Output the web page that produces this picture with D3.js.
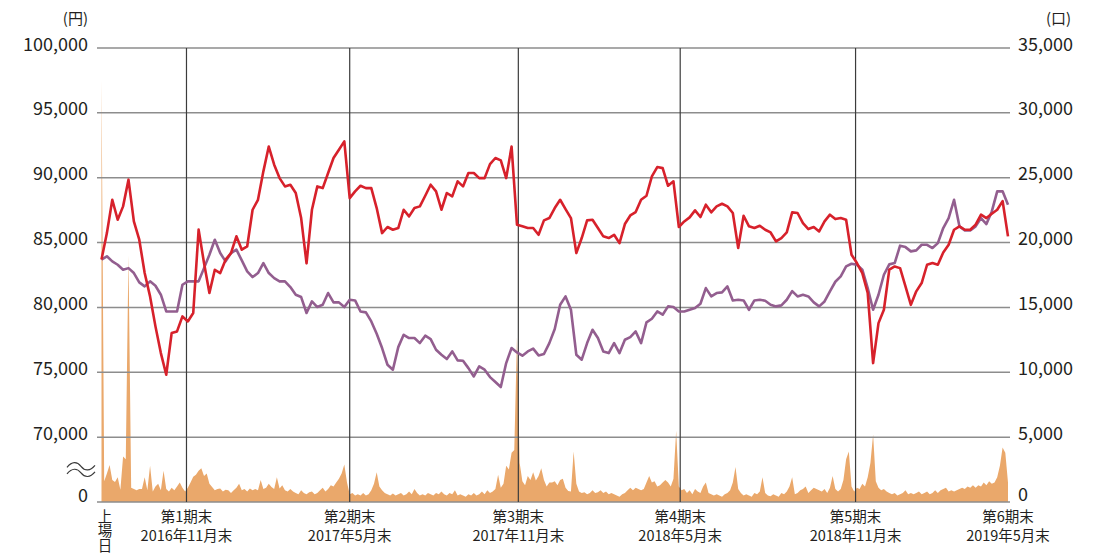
<!DOCTYPE html>
<html>
<head>
<meta charset="utf-8">
<script src="https://cdn.jsdelivr.net/npm/d3@7"></script>
<style>
  html, body { margin: 0; padding: 0; background: #fff; }
  svg { display: block; font-family: "Noto Sans CJK JP", "Noto Sans", sans-serif; }
</style>
</head>
<body>
<svg id="chart" width="1104" height="558"></svg>
<script>
// ---- data -------------------------------------------------------------
// Left axis (yen): price ticks above the axis break, plus 0 at the bottom.
const priceTicks = [70000, 75000, 80000, 85000, 90000, 95000, 100000];
// Right axis (units traded).
const volumeTicks = [0, 5000, 10000, 15000, 20000, 25000, 30000, 35000];

// Trading-day index of each fiscal period end (day 0 = listing day).
const periodEndDay = [63, 184, 309, 429, 559, 672];
const periodNames = ["第1期末", "第2期末", "第3期末", "第4期末", "第5期末", "第6期末"];
const periodDates = ["2016年11月末", "2017年5月末", "2017年11月末", "2018年5月末", "2018年11月末", "2019年5月末"];
const listingLabel = "上場日";

// Unit price (yen), one value every 4 trading days.
const priceStep = 4;
const unitPrice = [
  83700, 85730, 88300, 86760, 87790, 89850, 86630, 85220, 82650, 80850,
  78540, 76480, 74810, 78020, 78150, 79310, 78920, 79570, 86000, 83420,
  81110, 82900, 82650, 83680, 84190, 85480, 84450, 84700, 87530, 88300,
  90490, 92400, 91000, 89970, 89330, 89460, 88820, 86890, 83400, 87530,
  89330, 89200, 90360, 91520, 92160, 92800, 88430, 88950, 89380, 89200,
  89200, 87660, 85730, 86200, 85990, 86120, 87530, 87020, 87660, 87790,
  88610, 89460, 88950, 87530, 88820, 88560, 89720, 89330, 90360, 90360,
  89970, 89970, 91050, 91520, 91340, 89970, 92400, 86380, 86250, 86120,
  86120, 85600, 86710, 86890, 87660, 88300, 87580, 86890, 84190, 85350,
  86710, 86760, 86120, 85480, 85350, 85600, 84960, 86430, 87090, 87350,
  88300, 88610, 90100, 90820, 90740, 89380, 89720, 86200, 86630, 86940,
  87480, 86970, 87920, 87330, 87790, 87990, 87790, 87280, 84580, 87070,
  86250, 86120, 86300, 85990, 85780, 85090, 85350, 85780, 87330, 87280,
  86500, 86040, 86200, 85860, 86630, 87150, 86810, 86890, 86760, 84060,
  83420, 82650, 81110, 75710, 78790, 79820, 82910, 83160, 83030, 81620,
  80200, 81240, 81880, 83290, 83420, 83290, 84240, 84830, 85990, 86250,
  85990, 85990, 86380, 87150, 86890, 87220, 87530, 88200, 85480
];

// REIT index rebased to the listing-day price (yen), same spacing.
const reitIndex = [
  83680, 83940, 83550, 83290, 82910, 83030, 82650, 81930, 81620, 82010,
  81670, 80980, 79690, 79690, 79690, 81750, 82010, 82010, 82010, 83030,
  84060, 85220, 84190, 83550, 84190, 84450, 83630, 82780, 82340, 82650,
  83420, 82650, 82260, 82010, 82010, 81570, 80980, 80800, 79570, 80470,
  80030, 80210, 81110, 80390, 80390, 80030, 80590, 80540, 79690, 79620,
  78920, 77970, 76870, 75580, 75200, 76940, 77890, 77640, 77640, 77250,
  77820, 77560, 76740, 76350, 76020, 76610, 75920, 75890, 75320, 74680,
  75450, 75200, 74630, 74250, 73860, 75710, 76870, 76530, 76280, 76610,
  76820, 76300, 76410, 77250, 78330, 80210, 80850, 79820, 76350, 75970,
  77250, 78280, 77640, 76610, 76480, 77250, 76480, 77510, 77710, 78150,
  77250, 78850, 79130, 79690, 79440, 80080, 80030, 79690, 79690, 79820,
  79950, 80280, 81490, 80850, 81110, 81160, 81620, 80540, 80590, 80540,
  79820, 80540, 80590, 80520, 80210, 80080, 80160, 80590, 81260, 80850,
  80980, 80850, 80390, 80080, 80460, 81240, 81980, 82390, 83160, 83370,
  83290, 82910, 81490, 79820, 80980, 82520, 83320, 83420, 84760, 84650,
  84320, 84400, 84830, 84830, 84580, 84960, 86120, 86890, 88300, 86250,
  85940, 85940, 86250, 86890, 86430, 87400, 88950, 88950, 87920
];

// Units traded, one value every 2 trading days.
const volumeStep = 2;
const volume = [
  32500, 1600, 2200, 2850, 1700, 1550, 1900, 950, 3500, 3300,
  19000, 1100, 1000, 900, 1000, 1000, 1900, 900, 2800, 800,
  1200, 1400, 900, 2400, 1000, 800, 1100, 900, 1200, 1500,
  1100, 800, 1100, 1500, 1950, 2100, 2400, 2600, 2000, 2200,
  1400, 1150, 900, 1000, 1050, 800, 950, 900, 700, 900,
  1100, 1400, 900, 1000, 800, 1050, 900, 1000, 900, 1700,
  1000, 1100, 1400, 1150, 1000, 1900, 1050, 1300, 900, 800,
  1000, 800, 700, 600, 900, 700, 600, 750, 800, 600,
  700, 900, 1100, 800, 1000, 1300, 1200, 1500, 1800, 2200,
  2900, 1500, 600, 700, 500, 600, 500, 700, 500, 600,
  900, 1400, 2300, 1200, 900, 700, 600, 500, 650, 500,
  600, 700, 500, 600, 800, 600, 1000, 700, 500, 600,
  500, 700, 600, 500, 700, 600, 800, 600, 500, 700,
  600, 900, 500, 600, 500, 400, 600, 500, 700, 500,
  600, 800, 600, 900, 700, 800, 1000, 2100, 1100, 1400,
  2800, 2500, 3800, 4000, 12700, 3000, 1600, 1300, 2000, 1700,
  2300, 1650, 2000, 2600, 1700, 1200, 1500, 1500, 1600, 1300,
  1700, 1800, 1100, 850, 800, 3900, 1400, 800, 700, 750,
  600, 700, 900, 700, 750, 900, 700, 800, 600, 700,
  600, 500, 400, 600, 700, 900, 1100, 900, 1100, 1000,
  900, 1000, 1500, 2000, 1500, 1600, 1200, 1300, 1500, 1700,
  1500, 1200, 1800, 5500, 1200, 900, 1000, 700, 900, 600,
  1000, 800, 700, 1200, 1500, 700, 600, 500, 600, 500,
  400, 600, 700, 900, 1500, 2700, 1000, 700, 500, 600,
  500, 400, 700, 600, 800, 1900, 700, 500, 450, 600,
  500, 400, 700, 600, 800, 1200, 1900, 600, 700, 900,
  1000, 1200, 700, 900, 1100, 1000, 900, 800, 1000, 700,
  1100, 2000, 1000, 800, 1000, 1700, 3300, 3900, 1200, 800,
  1100, 1000, 1400, 1200, 1900, 3000, 5200, 1600, 1100, 900,
  1000, 800, 700, 600, 700, 500, 600, 700, 900, 600,
  700, 600, 700, 800, 600, 700, 800, 600, 700, 900,
  700, 900, 1000, 1100, 800, 900, 800, 900, 1000, 1100,
  1000, 1200, 1100, 1300, 1100, 1300, 1200, 1500, 1300, 1600,
  1400, 1500, 1900, 2800, 4200, 3800, 1500
];

// ---- layout -----------------------------------------------------------
const svg = d3.select("#chart");
const plot = { left: 97, right: 1010, top: 48, bottom: 502 };
const textColor = "#231f20";
const gridColor = "#8d8d8d";

const lastDay = periodEndDay[periodEndDay.length - 1];
const x = d3.scaleLinear().domain([0, lastDay]).range([101.5, 1008]);
const yVol = d3.scaleLinear().domain([0, 35000]).range([plot.bottom, plot.top]);
// Price axis is broken below 70,000; its 5,000 steps line up with the volume axis.
const yPrice = d3.scaleLinear().domain([70000, 100000]).range([yVol(5000), plot.top]);

// ---- volume area ------------------------------------------------------
const area = d3.area()
  .x((d, i) => x(i * volumeStep))
  .y0(yVol(0))
  .y1(d => yVol(d));
svg.append("path")
  .datum(volume)
  .attr("d", area)
  .attr("fill", "#eaa86b");

// ---- grid ---------------------------------------------------------------
const grid = svg.append("g");
grid.selectAll("line.h")
  .data(priceTicks)
  .join("line")
  .attr("x1", plot.left).attr("x2", plot.right)
  .attr("y1", d => yPrice(d)).attr("y2", d => yPrice(d))
  .attr("stroke", gridColor).attr("stroke-width", 1.5);
grid.append("line")
  .attr("x1", plot.left).attr("x2", plot.right)
  .attr("y1", yVol(0)).attr("y2", yVol(0))
  .attr("stroke", gridColor).attr("stroke-width", 1.5);

// Period-end markers (none at the final, open-ended period)
grid.selectAll("line.v")
  .data(periodEndDay.slice(0, -1))
  .join("line")
  .attr("x1", d => x(d)).attr("x2", d => x(d))
  .attr("y1", plot.top).attr("y2", plot.bottom)
  .attr("stroke", "#3c3c3c").attr("stroke-width", 1.2);

// ---- price lines --------------------------------------------------------
const priceLine = d3.line()
  .x((d, i) => x(i * priceStep))
  .y(d => yPrice(d));
svg.append("path")
  .datum(reitIndex)
  .attr("d", priceLine)
  .attr("fill", "none")
  .attr("stroke", "#935e8f")
  .attr("stroke-width", 2.6)
  .attr("stroke-linejoin", "round");
svg.append("path")
  .datum(unitPrice)
  .attr("d", priceLine)
  .attr("fill", "none")
  .attr("stroke", "#d7212b")
  .attr("stroke-width", 2.6)
  .attr("stroke-linejoin", "round");

// ---- axes labels --------------------------------------------------------
const fmt = d3.format(",");
const left = svg.append("g").attr("fill", textColor).attr("font-size", 18).attr("text-anchor", "end");
left.selectAll("text.t")
  .data(priceTicks)
  .join("text")
  .attr("x", 88).attr("y", d => yPrice(d) + 2.5)
  .text(d => fmt(d));
left.append("text").attr("x", 88).attr("y", yVol(0)).text("0");
left.append("text").attr("x", 88).attr("y", 24).attr("font-size", 15).text("(円)");

const right = svg.append("g").attr("fill", textColor).attr("font-size", 18).attr("text-anchor", "start");
right.selectAll("text.t")
  .data(volumeTicks.slice(1))
  .join("text")
  .attr("x", 1018).attr("y", d => yVol(d) + 2.5)
  .text(d => fmt(d));
right.append("text").attr("x", 1018).attr("y", yVol(0) - 1).text("0");
right.append("text").attr("x", 1046).attr("y", 24).attr("font-size", 15).text("(口)");

// Axis-break mark between 0 and 70,000
const breakY = (yVol(0) + yPrice(70000)) / 2;
[-3.3, 3.3].forEach(off => {
  const y0 = breakY + off;
  svg.append("path")
    .attr("d", `M67,${y0 + 1} C72,${y0 - 5} 77,${y0 - 5} 81,${y0} S90,${y0 + 5} 95,${y0 - 1}`)
    .attr("fill", "none")
    .attr("stroke", "#3a3a3a")
    .attr("stroke-width", 1.2);
});

// Period labels under the chart
const bottom = svg.append("g").attr("fill", textColor).attr("font-size", 14.5).attr("text-anchor", "middle");
periodEndDay.forEach((d, i) => {
  bottom.append("text").attr("x", x(d)).attr("y", 522).text(periodNames[i]);
  bottom.append("text").attr("x", x(d)).attr("y", 541).text(periodDates[i]);
});
// Listing-day label, set vertically
bottom.append("text")
  .attr("x", x(0) + 3.5).attr("y", 509)
  .attr("text-anchor", "start")
  .style("writing-mode", "vertical-rl")
  .style("text-orientation", "upright")
  .text(listingLabel);
</script>
</body>
</html>
